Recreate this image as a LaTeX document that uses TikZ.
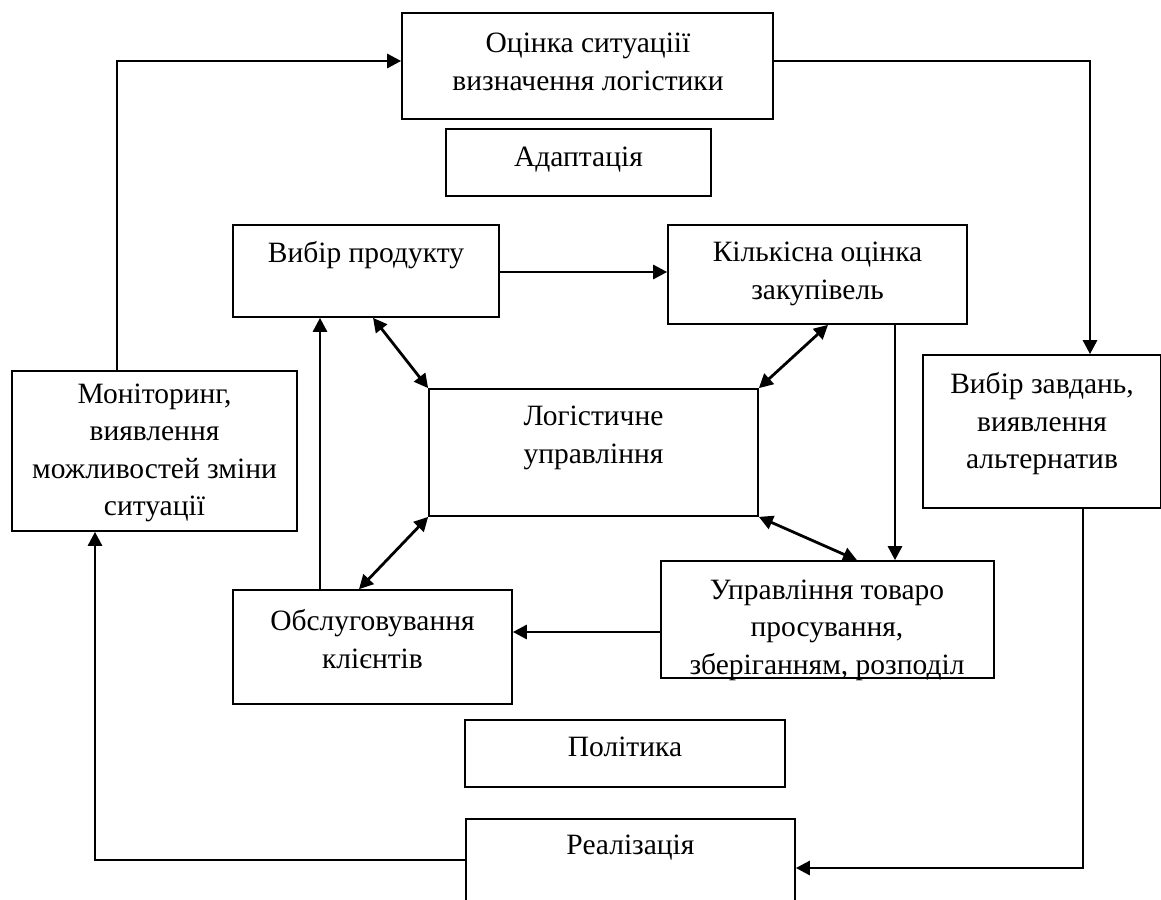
\documentclass[tikz,border=0pt]{standalone}
\usepackage{fontspec}
\setmainfont{Liberation Serif}
\usetikzlibrary{arrows.meta}
\tikzset{
  box/.style={draw, line width=1.7pt, inner sep=0pt, fill=none},
  txt/.style={font=\fontsize{29.5}{37.5}\selectfont, align=center, inner sep=0pt, anchor=center},
  conn/.style={line width=2.8pt, -{Triangle[length=14pt,width=14pt]}},
  dconn/.style={line width=2.8pt, {Triangle[length=14pt,width=14pt]}-{Triangle[length=14pt,width=14pt]}},
}
\begin{document}
\begin{tikzpicture}[x=1pt,y=-1pt]
\useasboundingbox (0,0) rectangle (1161,899);
\clip (0,0) rectangle (1161,899);
% boxes
\node[box, minimum width=371pt, minimum height=106pt] (ocin) at (587.5,66) {};
\node[box, minimum width=265pt, minimum height=67pt] (adapt) at (578.5,162.5) {};
\node[box, minimum width=266pt, minimum height=92pt] (vybir) at (366,271) {};
\node[box, minimum width=299pt, minimum height=99pt] (kilk) at (817.5,274.5) {};
\node[box, minimum width=329pt, minimum height=127pt] (log) at (593.5,452.5) {};
\node[box, minimum width=285pt, minimum height=160pt] (monit) at (154.5,451) {};
\node[box, minimum width=238pt, minimum height=153pt] (zavd) at (1042,431.5) {};
\node[box, minimum width=333pt, minimum height=117pt] (upr) at (827.5,619.5) {};
\node[box, minimum width=279pt, minimum height=114pt] (obsl) at (372.5,647) {};
\node[box, minimum width=320pt, minimum height=67pt] (polit) at (625,753.5) {};
\node[box, minimum width=329pt, minimum height=110pt] (real) at (630.5,874) {};
% texts
\node[txt] (tocin) at (588,62) {Оцінка ситуаціії\\визначення логістики};
\node[txt] (tadapt) at (578.5,160) {Адаптація};
\node[txt] (tvybir) at (366,255) {Вибір продукту};
\node[txt] (tkilk) at (817.5,274) {Кількісна оцінка\\закупівель};
\node[txt] (tlog) at (593.5,438) {Логістичне\\управління};
\node[txt] (tmonit) at (154.5,453) {Моніторинг,\\виявлення\\можливостей зміни\\ситуації};
\node[txt] (tzavd) at (1042,424) {Вибір завдань,\\виявлення\\альтернатив};
\node[txt] (tupr) at (827,630) {Управління товаро\\просування,\\зберіганням, розподіл};
\node[txt] (tobsl) at (372.5,639) {Обслуговування\\клієнтів};
\node[txt] (tpolit) at (625,747) {Політика};
\node[txt] (treal) at (630.5,848) {Реалізація};
% outer loop
\coordinate (c1) at (117,61);
\coordinate (c2) at (1090,61);
\coordinate (c3) at (1083,868);
\coordinate (c4) at (95,860);
\draw[conn] (monit.north -| c1) -- (c1) -- (ocin.west |- c1);
\draw[conn] (ocin.east |- c2) -- (c2) -- (zavd.north -| c2);
\draw[conn] (zavd.south -| c3) -- (c3) -- (real.east |- c3);
\draw[conn] (real.west |- c4) -- (c4) -- (monit.south -| c4);
% inner connectors
\draw[conn] (vybir.east |- 0,272) -- (kilk.west |- 0,272);
\draw[conn] (kilk.south -| 895,0) -- (upr.north -| 895,0);
\draw[conn] (upr.west |- 0,632) -- (obsl.east |- 0,632);
\draw[conn] (obsl.north -| 320,0) -- (vybir.south -| 320,0);
% double arrows
\draw[dconn] (vybir.south -| 373,0) -- (log.north west);
\draw[dconn] (kilk.south -| 828,0) -- (log.north east);
\draw[dconn] (log.south west) -- (obsl.north -| 359,0);
\draw[dconn] (log.south east) -- (upr.north -| 857,0);
\end{tikzpicture}
\end{document}
